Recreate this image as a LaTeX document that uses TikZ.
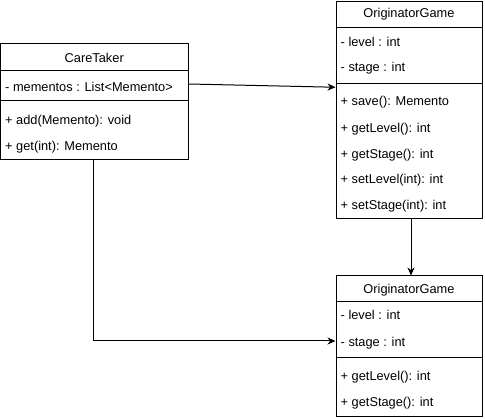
\documentclass[tikz,border=0pt]{standalone}
\usepackage{fontspec}
\setmainfont{Liberation Sans}
\usetikzlibrary{arrows.meta}
\tikzset{
  classbox/.style={draw, line width=1pt, inner sep=0pt},
  classtitle/.style={inner sep=0pt, font=\fontsize{12.8}{15}\selectfont},
  member/.style={anchor=west, inner sep=0pt, text height=9.5pt, text depth=3pt, font=\fontsize{12.8}{15}\selectfont},
  assoc/.style={line width=1pt, -{Stealth[length=8pt,width=7pt]}}
}

\begin{document}
\begin{tikzpicture}[x=1pt, y=-1pt]
			\useasboundingbox (0,0) rectangle (485,419);
			% CareTaker
			\node (care) at (94.25,102) [classbox, minimum width=187.5pt, minimum height=116pt] {};
			\draw[line width=1pt] (care.west |- 0,71) -- (care.east |- 0,71);
			\draw[line width=1pt] (care.west |- 0,101) -- (care.east |- 0,101);
			\node (ct-name) at (94.25,58) [classtitle] {CareTaker};
			\node (ct-mementos) at (5,88) [member] {- mementos : List<Memento>};
			\node (ct-add) at (5,121) [member] {+ add(Memento): void};
			\node (ct-get) at (5,147) [member] {+ get(int): Memento};
			% OriginatorGame (top)
			\node (og1) at (409,110.25) [classbox, minimum width=146pt, minimum height=217.5pt] {};
			\draw[line width=1pt] (og1.west |- 0,27.5) -- (og1.east |- 0,27.5);
			\draw[line width=1pt] (og1.west |- 0,83.5) -- (og1.east |- 0,83.5);
			\node (og1-name) at (409,14) [classtitle] {OriginatorGame};
			\node (og1-level) at (340.5,43) [member] {- level : int};
			\node (og1-stage) at (340.5,68) [member] {- stage : int};
			\node (og1-save) at (340.5,102) [member] {+ save(): Memento};
			\node (og1-getlevel) at (340.5,129) [member] {+ getLevel(): int};
			\node (og1-getstage) at (340.5,155) [member] {+ getStage(): int};
			\node (og1-setlevel) at (340.5,180) [member] {+ setLevel(int): int};
			\node (og1-setstage) at (340.5,206) [member] {+ setStage(int): int};
			% OriginatorGame (bottom)
			\node (og2) at (409,346.5) [classbox, minimum width=146pt, minimum height=141pt] {};
			\draw[line width=1pt] (og2.west |- 0,302) -- (og2.east |- 0,302);
			\draw[line width=1pt] (og2.west |- 0,358) -- (og2.east |- 0,358);
			\node (og2-name) at (409,290) [classtitle] {OriginatorGame};
			\node (og2-level) at (340.5,316) [member] {- level : int};
			\node (og2-stage) at (340.5,343) [member] {- stage : int};
			\node (og2-getlevel) at (340.5,377) [member] {+ getLevel(): int};
			\node (og2-getstage) at (340.5,403) [member] {+ getStage(): int};
			% connectors
			\draw[assoc] ([yshift=18pt]care.east) -- ([yshift=23pt]og1.west);
			\draw[assoc] ([xshift=2pt]og1.south) -- ([xshift=2pt]og2.north);
			\draw[assoc] ([xshift=-1pt]care.south) |- ([yshift=5.5pt]og2.west);
\end{tikzpicture}
\end{document}
